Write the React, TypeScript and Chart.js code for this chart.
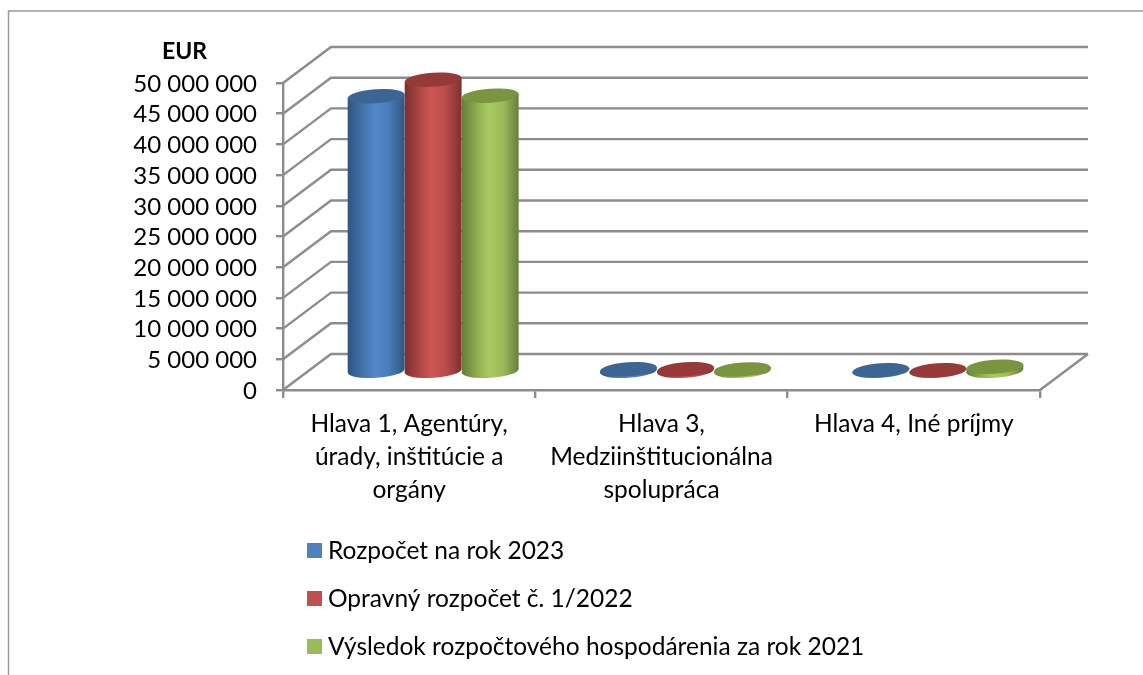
import React, { useEffect, useRef } from "react";
import { Chart, registerables, BarController, BarElement } from "chart.js";

const categories = [
  ["Hlava 1, Agentúry,", "úrady, inštitúcie a", "orgány"],
  ["Hlava 3,", "Medziinštitucionálna", "spolupráca"],
  ["Hlava 4, Iné príjmy"],
];
const seriesNames = [
  "Rozpočet na rok 2023",
  "Opravný rozpočet č. 1/2022",
  "Výsledok rozpočtového hospodárenia za rok 2021",
];
const budget2023 = [44900000, 440000, 280000];
const amended2022 = [47600000, 440000, 280000];
const result2021 = [45000000, 420000, 850000];
const axisMax = 50000000;
const axisStep = 5000000;
const axisUnit = "EUR";

const FONT = "Lato, Carlito, sans-serif";
const GRID = "#8c8c8c";
const GRID_WIDTH = 2.4;
const DEPTH_X = 48;
const DEPTH_Y = -36;
const ELLIPSE_RY = 7;
const TILT = (-4 * Math.PI) / 180;

const palettes = [
  { swatch: "#4f81bd", top: "#3d6593", stops: ["#2e5480", "#4677b0", "#5189ca", "#4a7db9", "#2f5680"] },
  { swatch: "#c0504d", top: "#953a38", stops: ["#7c2f2d", "#b34a47", "#cf5653", "#b84d4a", "#7c302e"] },
  { swatch: "#9bbb59", top: "#7a9440", stops: ["#647d38", "#94b353", "#a9ca61", "#9cbb59", "#64803a"] },
];

class CylinderElement extends BarElement {
  static id = "cylinder";
  draw(ctx: CanvasRenderingContext2D) {
    const { x, y, base, width } = (this as any).getProps(["x", "y", "base", "width"], true);
    const pal = palettes.find((p) => p.swatch === (this as any).options.backgroundColor) || palettes[0];
    const cx = x + DEPTH_X / 2;
    const topY = y + DEPTH_Y / 2;
    const baseY = base + DEPTH_Y / 2;
    const rx = width / 2;
    const ox = rx * Math.cos(TILT);
    const oy = rx * Math.sin(TILT);
    const grad = ctx.createLinearGradient(cx - rx, 0, cx + rx, 0);
    const pos = [0, 0.3, 0.48, 0.72, 1];
    pal.stops.forEach((c, i) => grad.addColorStop(pos[i], c));
    ctx.save();
    ctx.beginPath();
    ctx.moveTo(cx - ox, topY - oy);
    ctx.lineTo(cx - ox, baseY - oy);
    ctx.ellipse(cx, baseY, rx, ELLIPSE_RY, TILT, Math.PI, 0, true);
    ctx.lineTo(cx + ox, topY + oy);
    ctx.closePath();
    ctx.fillStyle = grad;
    ctx.fill();
    ctx.beginPath();
    ctx.ellipse(cx, topY, rx, ELLIPSE_RY, TILT, 0, Math.PI * 2);
    ctx.fillStyle = pal.top;
    ctx.fill();
    ctx.restore();
  }
}

class CylinderController extends BarController {
  static id = "cylinder";
  static defaults = { ...(BarController as any).defaults, dataElementType: "cylinder" };
  static overrides = (BarController as any).overrides;
}

Chart.register(...registerables, CylinderElement as any, CylinderController as any);

const scenePlugin = {
  id: "scene",
  beforeDatasetsDraw(chart: any) {
    const { ctx, chartArea, scales } = chart;
    const { left, right } = chartArea;
    ctx.save();
    // outer frame
    ctx.strokeStyle = "#9a9a9a";
    ctx.lineWidth = 1.5;
    ctx.beginPath();
    ctx.moveTo(8.5, 675);
    ctx.lineTo(8.5, 11);
    ctx.lineTo(1143, 11);
    ctx.stroke();
    // walls and floor
    ctx.strokeStyle = GRID;
    ctx.lineWidth = GRID_WIDTH;
    ctx.beginPath();
    scales.y.ticks.forEach((t: any) => {
      const py = scales.y.getPixelForValue(t.value);
      ctx.moveTo(left, py);
      ctx.lineTo(left + DEPTH_X, py + DEPTH_Y);
      ctx.lineTo(right + DEPTH_X, py + DEPTH_Y);
    });
    const zero = scales.y.getPixelForValue(0);
    ctx.moveTo(right, zero);
    ctx.lineTo(right + DEPTH_X, zero + DEPTH_Y);
    ctx.stroke();
    ctx.restore();
  },
  // Chart.js paints datasets last-to-first; here the later series sit on top.
  beforeDatasetDraw() {
    return false;
  },
  afterDatasetsDraw(chart: any) {
    chart.getSortedVisibleDatasetMetas().forEach((meta: any) => meta.controller.draw());
  },
  afterDraw(chart: any) {
    const { ctx } = chart;
    ctx.save();
    ctx.fillStyle = "#000";
    ctx.textBaseline = "middle";
    ctx.font = `bold 23px ${FONT}`;
    ctx.textAlign = "left";
    ctx.fillText(axisUnit, 162, 52);
    ctx.font = `24.5px ${FONT}`;
    chart.data.datasets.forEach((d: any, i: number) => {
      const rowY = 551 + i * 48;
      ctx.fillStyle = palettes[i].swatch;
      ctx.fillRect(307, rowY - 8, 15, 15);
      ctx.fillStyle = "#000";
      ctx.fillText(d.label, 328, rowY);
    });
    ctx.restore();
  },
};

export default function App() {
  const ref = useRef<HTMLCanvasElement>(null);
  useEffect(() => {
    const values = [budget2023, amended2022, result2021];
    const chart = new Chart(ref.current!, {
      type: "cylinder" as any,
      data: {
        labels: categories as any,
        datasets: seriesNames.map((label, i) => ({
          label,
          data: values[i],
          clip: false,
          backgroundColor: palettes[i].swatch,
          categoryPercentage: 0.678,
          barPercentage: 1,
        })) as any,
      },
      plugins: [scenePlugin],
      options: {
        responsive: false,
        animation: false,
        devicePixelRatio: 1,
        layout: { padding: { left: 0, top: 83, right: 103, bottom: 0 } },
        plugins: { legend: { display: false }, tooltip: { enabled: false }, title: { display: false } },
        scales: {
          x: {
            type: "category",
            afterFit: (s: any) => { s.height = 285; },
            grid: { drawOnChartArea: false, color: GRID, lineWidth: GRID_WIDTH, tickLength: 8 },
            border: { color: GRID, width: GRID_WIDTH },
            ticks: {
              color: "#000",
              maxRotation: 0,
              minRotation: 0,
              autoSkip: false,
              padding: 10,
              font: { family: FONT, size: 24.5, lineHeight: 33 / 24.5 },
            },
          },
          y: {
            min: 0,
            max: axisMax,
            afterFit: (s: any) => { s.width = 283; },
            grid: { drawOnChartArea: false, color: GRID, lineWidth: GRID_WIDTH, tickLength: 7 },
            border: { color: GRID, width: GRID_WIDTH },
            ticks: {
              stepSize: axisStep,
              autoSkip: false,
              color: "#000",
              padding: 19,
              labelOffset: 1,
              font: { family: FONT, size: 24 },
              callback: (v: any) => String(v).replace(/\B(?=(\d{3})+(?!\d))/g, " "),
            },
          },
        },
      } as any,
    });
    return () => chart.destroy();
  }, []);
  return (
    <canvas
      ref={ref}
      width={1143}
      height={675}
      style={{ position: "fixed", left: 0, top: 0, width: 1143, height: 675, display: "block" }}
    />
  );
}
